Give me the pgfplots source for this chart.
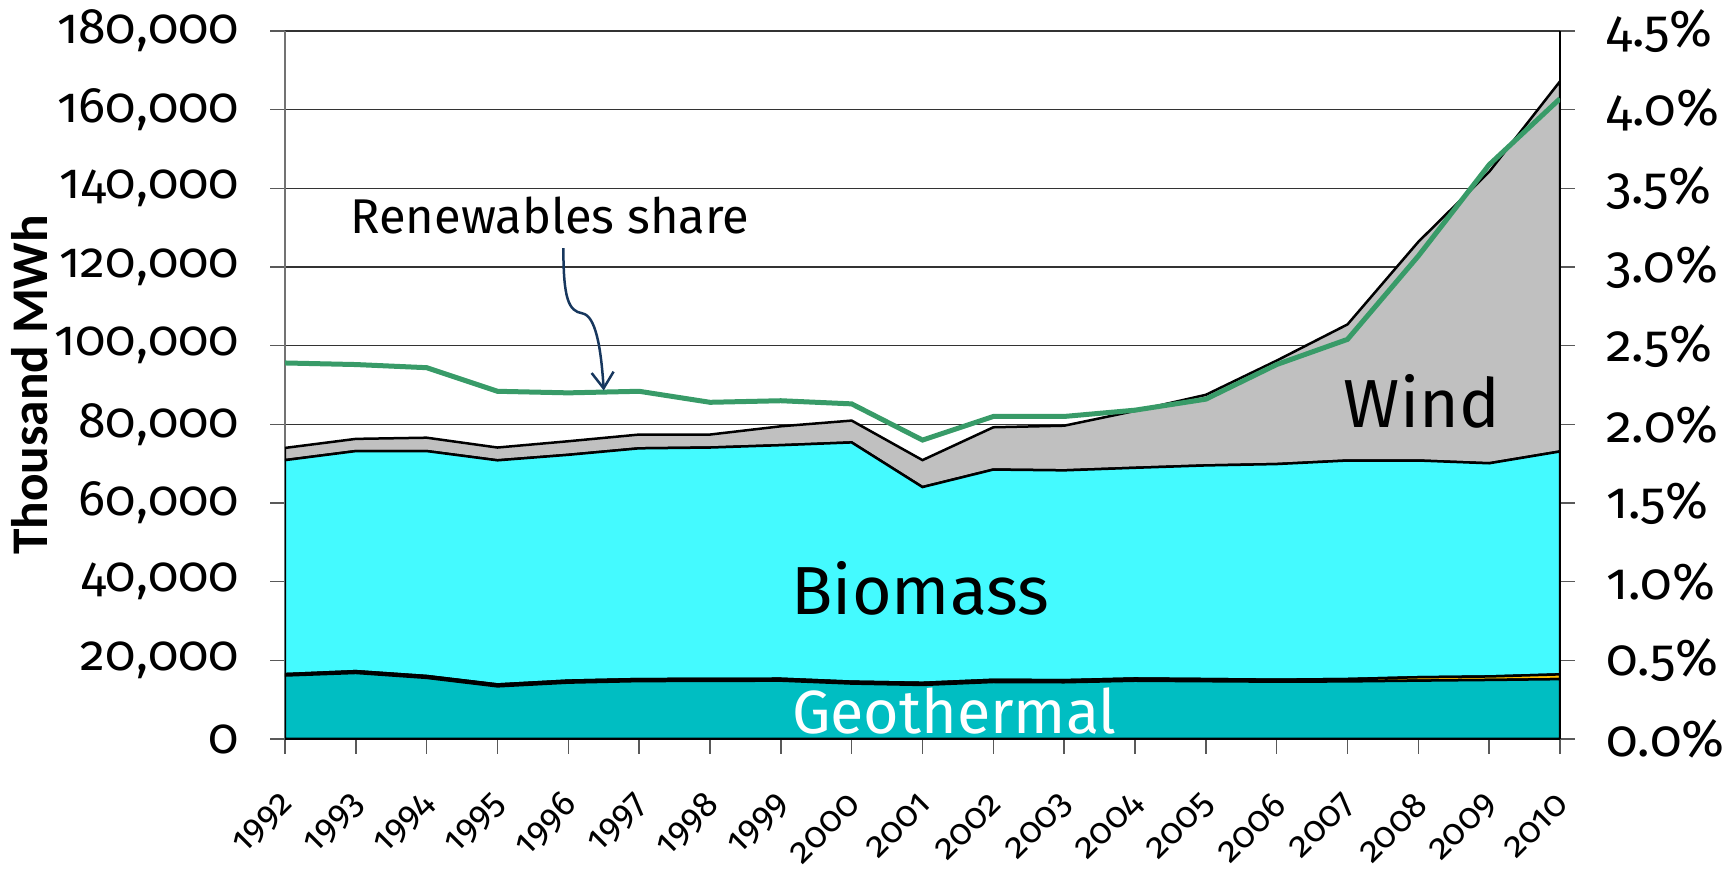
\documentclass[border=0pt]{standalone}
\usepackage{pgfplots}
\pgfplotsset{compat=1.18}
\usepackage{pgfplotstable}
\usepackage{fontspec}
\setmainfont{Fira Sans}[Numbers=OldStyle]
\newfontfamily\labfont{Carlito}
\usetikzlibrary{arrows.meta}

\definecolor{geoc}{RGB}{0,190,194}
\definecolor{bioc}{RGB}{68,250,255}
\definecolor{windc}{RGB}{192,192,192}
\definecolor{solarc}{RGB}{255,192,0}
\definecolor{sharec}{RGB}{56,155,104}
\definecolor{arrowc}{RGB}{23,55,94}

\pgfplotstableread{
year geo solar bio wind share
1992 16137 363 54400 3100 2.39
1993 16789 462 55949 3100 2.38
1994 15535 480 57185 3400 2.36
1995 13378 497 56975 3250 2.21
1996 14329 521 57400 3450 2.20
1997 14726 511 58663 3500 2.21
1998 14774 502 58824 3300 2.14
1999 14827 495 59378 4800 2.15
2000 14093 493 60814 5550 2.13
2001 13741 543 49766 6850 1.90
2002 14491 555 53454 10750 2.05
2003 14424 534 53342 11350 2.05
2004 14811 575 53564 14450 2.09
2005 14692 550 54308 17950 2.16
2006 14568 508 54824 26300 2.38
2007 14637 612 55551 34600 2.54
2008 14840 864 55096 55600 3.07
2009 15009 891 54200 74100 3.65
2010 15219 1212 56669 94100 4.07
}\data

\begin{document}
\begin{tikzpicture}
\begin{axis}[
  scale only axis, width=637.5pt, height=354pt,
  xmin=1992, xmax=2010, ymin=0, ymax=180000,
  stack plots=y,
  axis x line*=bottom, axis y line*=left,
  x axis line style={black, line width=1.25pt},
  y axis line style={black!55, line width=0.75pt},
  xtick={1992,1993,...,2010},
  ytick={0,20000,40000,60000,80000,100000,120000,140000,160000,180000},
  ymajorgrids, grid style={black!80, line width=0.7pt},
  tick align=outside, major tick length=7.5pt,
  tick style={black!65, line width=0.75pt},
  scaled y ticks=false,
  /pgf/number format/assume math mode=true,
  x tick label style={/pgf/number format/1000 sep={}, xshift=4pt, yshift=-20pt, rotate=45, anchor=east,
     font=\fontsize{18}{18}\selectfont},
  y tick label style={/pgf/number format/fixed, /pgf/number format/1000 sep={,},
     xshift=-12pt, font=\fontsize{25}{25}\selectfont},
  ylabel={\labfont\bfseries Thousand MWh},
  ylabel style={at={(axis description cs:-0.2,0.5)}, rotate=0, anchor=center,
     font=\fontsize{25.7}{25.7}\selectfont},
]
\addplot[draw=black, line width=1.25pt, fill=geoc] table[x=year,y=geo]{\data} \closedcycle;
\addplot[draw=black, line width=1.25pt, fill=solarc] table[x=year,y=solar]{\data} \closedcycle;
\addplot[draw=black, line width=1.25pt, fill=bioc] table[x=year,y=bio]{\data} \closedcycle;
\addplot[draw=black, line width=1.25pt, fill=windc] table[x=year,y=wind]{\data} \closedcycle;
\end{axis}
\begin{axis}[
  scale only axis, width=637.5pt, height=354pt,
  xmin=1992, xmax=2010, ymin=0, ymax=4.5,
  axis y line*=right, axis x line=none,
  y axis line style={black, line width=1.25pt},
  ytick={0,0.5,1,1.5,2,2.5,3,3.5,4,4.5},
  yticklabels={0.0\%,0.5\%,1.0\%,1.5\%,2.0\%,2.5\%,3.0\%,3.5\%,4.0\%,4.5\%},
  tick align=outside, major tick length=7.5pt,
  tick style={black!65, line width=0.75pt},
  y tick label style={xshift=12pt, font=\fontsize{26}{26}\selectfont},
]
\addplot[sharec, line width=2.5pt] table[x=year,y=share]{\data};
\node[font=\fontsize{34}{34}\selectfont] at (axis cs:2000.97,0.96) {Biomass};
\node[font=\fontsize{34}{34}\selectfont] at (axis cs:2008.05,2.145) {Wind};
\node[font=\fontsize{30.5}{30.5}\selectfont, text=white] at (axis cs:2001.45,0.18) {Geothermal};
\node[font=\fontsize{24.4}{24.4}\selectfont] at (axis cs:1995.74,3.325) {Renewables share};
\draw[arrowc, line width=1.25pt, -{Straight Barb[length=8pt,width=11pt]}]
  (axis cs:1995.93,3.12) .. controls (axis cs:1995.93,2.80) and (axis cs:1996.0,2.72) ..
  (axis cs:1996.2,2.705) .. controls (axis cs:1996.38,2.69) and (axis cs:1996.46,2.50) ..
  (axis cs:1996.5,2.215);
\end{axis}
\pgfresetboundingbox
\path (-142.5pt,-66pt) rectangle (725pt,369.5pt);
\end{tikzpicture}
\end{document}
